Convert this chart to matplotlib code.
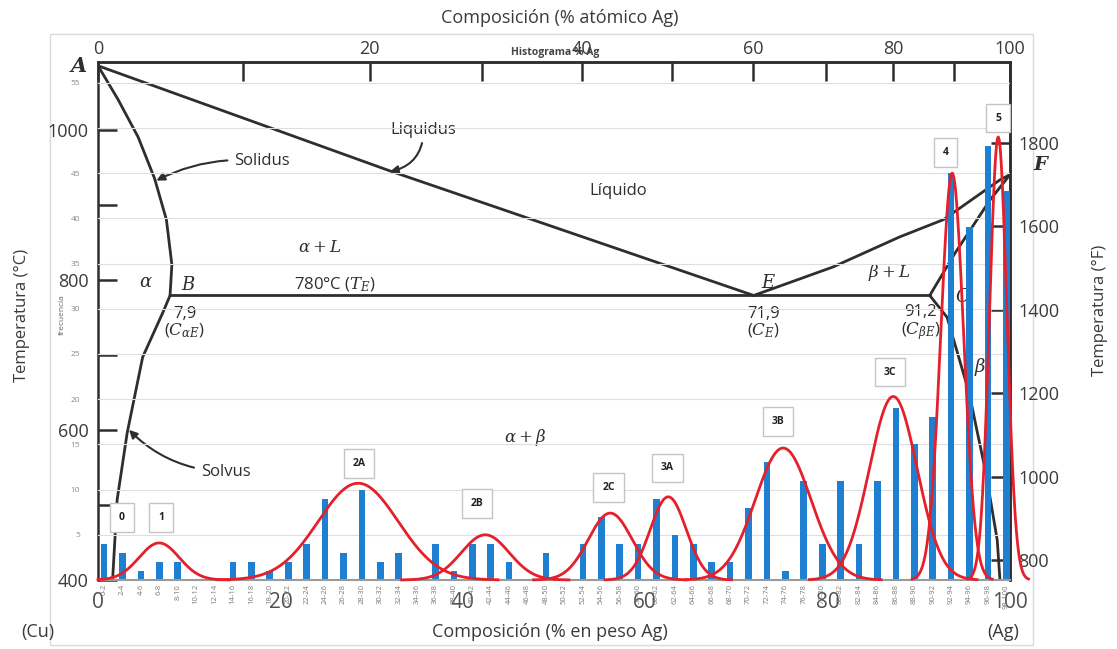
import numpy as np
import matplotlib.pyplot as plt
from matplotlib.patches import Rectangle

plt.rcParams['font.family'] = ['Open Sans', 'DejaVu Sans']
plt.rcParams['mathtext.fontset'] = 'dejavuserif'

# histogram: frequency per composition interval (% weight Ag)
bins = ["0-2", "2-4", "4-6", "6-8", "8-10", "10-12", "12-14", "14-16", "16-18", "18-20",
        "20-22", "22-24", "24-26", "26-28", "28-30", "30-32", "32-34", "34-36", "36-38", "38-40",
        "40-42", "42-44", "44-46", "46-48", "48-50", "50-52", "52-54", "54-56", "56-58", "58-60",
        "60-62", "62-64", "64-66", "66-68", "68-70", "70-72", "72-74", "74-76", "76-78", "78-80",
        "80-82", "82-84", "84-86", "86-88", "88-90", "90-92", "92-94", "94-96", "96-98", "98-100"]
counts = [4, 3, 1, 2, 2, 0, 0, 2, 2, 1,
          2, 4, 9, 3, 10, 2, 3, 0, 4, 1,
          4, 4, 2, 0, 3, 0, 4, 7, 4, 4,
          9, 5, 4, 2, 2, 8, 13, 1, 11, 4,
          11, 4, 11, 19, 15, 18, 45, 39, 48, 43]
freq_ticks = [0, 5, 10, 15, 20, 25, 30, 35, 40, 45, 50, 55]
freq_labels = ["", "5", "10", "15", "20", "25", "30", "35", "40", "45", "", "55"]

# fitted peaks (in bin-index units)
peak_names = ["1", "2A", "2B", "2C", "3A", "3B", "3C", "4", "5"]
peak_center = [2.99, 13.80, 20.70, 27.49, 30.64, 36.88, 42.86, 46.06, 48.56]
peak_height = [4.1, 10.7, 5.0, 7.4, 9.2, 14.6, 20.3, 45.0, 49.0]
peak_sigma = [1.09, 2.17, 1.30, 1.19, 0.98, 1.52, 1.30, 0.62, 0.47]

box_names = ["0", "1", "2A", "2B", "2C", "3A", "3B", "3C", "4", "5"]
box_x = [0.98, 3.1, 13.85, 20.26, 27.4, 30.6, 36.6, 42.7, 45.7, 48.56]
box_y = [6.9, 6.9, 12.9, 8.5, 10.2, 12.4, 17.5, 23.0, 47.3, 51.1]

# Cu-Ag phase diagram (% weight Ag, °C)
liquidus_wt = [0, 32, 71.9, 80.6, 87.9, 92.7, 98.9, 100]
liquidus_T = [1085, 945, 779, 817, 857, 880, 933, 940]
solidus_a_wt = [0, 2.2, 4.4, 6.2, 7.5, 8.1, 7.9]
solidus_a_T = [1085, 1040, 990, 935, 880, 820, 779]
solvus_a_wt = [7.9, 7.1, 4.9, 3.2, 2.1, 1.6]
solvus_a_T = [779, 756, 697, 596, 507, 400]
eutectic_wt = [7.9, 91.2]
eutectic_T = [779, 779]
solidus_b_wt = [91.2, 94.0, 97.8, 100]
solidus_b_T = [779, 836, 906, 940]
solvus_b_wt = [91.2, 93.1, 95.5, 97.4, 98.6, 98.9]
solvus_b_T = [779, 750, 650, 540, 453, 400]

W, H = 1117, 649
fig = plt.figure(figsize=(W / 100, H / 100), dpi=100)
rect = [98 / W, 69 / H, 912 / W, 518 / H]

ink = '#2e2e2e'
serif_it = dict(family='DejaVu Serif', style='italic', color=ink)

# ---- phase diagram layer
ax_p = fig.add_axes(rect)
ax_p.set_zorder(1)
ax_p.set_xlim(0, 100)
ax_p.set_ylim(400, 1090)
for xs, ys in [(liquidus_wt, liquidus_T), (solidus_a_wt, solidus_a_T), (solvus_a_wt, solvus_a_T),
               (eutectic_wt, eutectic_T), (solidus_b_wt, solidus_b_T), (solvus_b_wt, solvus_b_T)]:
    ax_p.plot(xs, ys, color=ink, lw=2, solid_capstyle='round', solid_joinstyle='round')
ax_p.spines['bottom'].set_visible(False)
for s in ['left', 'top', 'right']:
    ax_p.spines[s].set_color(ink)
    ax_p.spines[s].set_linewidth(1.8)
ax_p.set_xticks([0, 20, 40, 60, 80, 100])
ax_p.tick_params(axis='x', length=0, pad=9, labelsize=15, labelcolor='#505050')
ax_p.set_yticks([400, 600, 800, 1000])
ax_p.set_yticks([500, 700, 900], minor=True)
ax_p.tick_params(axis='y', which='both', direction='in', length=14, width=1.8, color=ink,
                 labelsize=13, labelcolor='#3a3a3a', pad=7)


def wt_to_at(w):
    w = np.clip(np.asarray(w, dtype=float), 0, 100)
    a = w / 107.87
    return 100 * a / (a + (100 - w) / 63.55)


def at_to_wt(a):
    a = np.clip(np.asarray(a, dtype=float), 0, 100)
    return 100 * a * 107.87 / (a * 107.87 + (100 - a) * 63.55)


top = ax_p.secondary_xaxis('top', functions=(wt_to_at, at_to_wt))
top.set_xticks([0, 20, 40, 60, 80, 100])
top.set_xticks([10, 30, 50, 70, 90], minor=True)
top.tick_params(which='both', direction='in', length=14, width=1.8, color=ink,
                labelsize=13, labelcolor='#3a3a3a', pad=3)
top.spines['top'].set_color(ink)
top.spines['top'].set_linewidth(1.8)

right = ax_p.secondary_yaxis('right', functions=(lambda c: c * 1.8 + 32, lambda f: (f - 32) / 1.8))
right.set_yticks([800, 1000, 1200, 1400, 1600, 1800, 2000])
right.tick_params(direction='in', length=14, width=1.8, color=ink,
                  labelsize=13, labelcolor='#3a3a3a', pad=6)
right.spines['right'].set_color(ink)
right.spines['right'].set_linewidth(1.8)

# region and point labels
ax_p.text(-1.2, 1085, "A", ha='right', va='center', fontsize=15, fontweight='bold', clip_on=False, **serif_it)
ax_p.text(103.3, 953, "F", ha='center', va='center', fontsize=14, fontweight='bold', clip_on=False, **serif_it)
ax_p.text(57, 918, "Líquido", ha='center', va='center', fontsize=12, color=ink)
ax_p.text(24.3, 842, r"$\alpha + L$", ha='center', va='center', fontsize=12, color=ink)
ax_p.text(26, 793, r"780°C ($T_E$)", ha='center', va='center', fontsize=12, color=ink)
ax_p.text(5.2, 797, r"$\alpha$", ha='center', va='center', fontsize=13, color=ink)
ax_p.text(9.9, 793, "B", ha='center', va='center', fontsize=13, **serif_it)
ax_p.text(9.5, 742, "7,9\n" + r"($C_{\alpha E}$)", ha='center', va='center', fontsize=12,
          color=ink, linespacing=1.0)
ax_p.text(73.4, 795, "E", ha='center', va='center', fontsize=13, **serif_it)
ax_p.text(73.0, 742, "71,9\n" + r"($C_E$)", ha='center', va='center', fontsize=12,
          color=ink, linespacing=1.0)
ax_p.text(86.8, 810, r"$\beta + L$", ha='center', va='center', fontsize=12, color=ink)
ax_p.text(90.2, 742, "91,2\n" + r"($C_{\beta E}$)", ha='center', va='center', fontsize=12,
          color=ink, linespacing=1.0)
ax_p.text(94.8, 777, "C", ha='center', va='center', fontsize=13, **serif_it)
ax_p.text(96.7, 684, r"$\beta$", ha='center', va='center', fontsize=13, color=ink)
ax_p.text(46.8, 590, r"$\alpha + \beta$", ha='center', va='center', fontsize=12, color=ink)

ax_p.annotate("Liquidus", xy=(32.0, 944), xytext=(35.7, 1000), ha='center', va='center',
              fontsize=12, color=ink,
              arrowprops=dict(arrowstyle='-|>', color=ink, lw=1.5, shrinkA=2, shrinkB=0,
                              connectionstyle='arc3,rad=-0.4'))
ax_p.annotate("Solidus", xy=(6.4, 932), xytext=(18.0, 958), ha='center', va='center',
              fontsize=12, color=ink,
              arrowprops=dict(arrowstyle='-|>', color=ink, lw=1.5, shrinkA=3, shrinkB=0,
                              connectionstyle='arc3,rad=0.15'))
ax_p.annotate("Solvus", xy=(3.4, 600), xytext=(14.0, 544), ha='center', va='center',
              fontsize=12, color=ink,
              arrowprops=dict(arrowstyle='-|>', color=ink, lw=1.5, shrinkA=3, shrinkB=0,
                              connectionstyle='arc3,rad=-0.2'))

# ---- histogram layer
ax_h = fig.add_axes(rect)
ax_h.set_zorder(2)
ax_h.patch.set_visible(False)
idx = np.arange(len(bins))
ax_h.bar(idx, counts, width=0.36, color='#1f7fd0', zorder=2)
ax_h.set_xlim(-0.33, 49.2)
ax_h.set_ylim(0, 57.3)
ax_h.set_yticks(freq_ticks)
ax_h.set_yticklabels(freq_labels)
ax_h.grid(axis='y', color='#dedede', lw=0.8)
ax_h.set_axisbelow(True)
for s in ['top', 'left', 'right']:
    ax_h.spines[s].set_visible(False)
ax_h.spines['bottom'].set_color('#9a9a9a')
ax_h.spines['bottom'].set_linewidth(1.5)
ax_h.set_xticks(idx)
ax_h.set_xticklabels(bins, rotation=90)
ax_h.tick_params(axis='x', length=0, pad=3, labelsize=5.5, labelcolor='#7a7a7a')
ax_h.tick_params(axis='y', length=0, pad=13, labelsize=6, labelcolor='#8a8a8a')

for c, h, s in zip(peak_center, peak_height, peak_sigma):
    xs = np.linspace(max(c - 3.5 * s, -0.33), c + 3.5 * s, 300)
    ax_h.plot(xs, h * np.exp(-0.5 * ((xs - c) / s) ** 2), color='#e5202a', lw=2,
              clip_on=False, zorder=4)

for name, x, y in zip(box_names, box_x, box_y):
    ax_h.text(x, y, name, ha='center', va='center', fontsize=7.5, fontweight='bold', color='#222',
              bbox=dict(boxstyle='square,pad=0.85', fc='white', ec='#c4c4c4', lw=1), zorder=5)

# ---- figure texts
fig.text(560 / W, 1 - 18 / H, "Composición (% atómico Ag)", ha='center', va='center',
         fontsize=13, color='#3a3a3a')
fig.text(555 / W, 1 - 52 / H, "Histograma % Ag", ha='center', va='center',
         fontsize=7.5, fontweight='bold', color='#444')
fig.text(22 / W, 1 - 315 / H, "Temperatura (°C)", rotation=90, ha='center', va='center',
         fontsize=12, color='#3a3a3a')
fig.text(62 / W, 1 - 315 / H, "frecuencia", rotation=90, ha='center', va='center',
         fontsize=6, color='#666')
fig.text(1100 / W, 1 - 310 / H, "Temperatura (°F)", rotation=90, ha='center', va='center',
         fontsize=12, color='#3a3a3a')
fig.text(550 / W, 1 - 632 / H, "Composición (% en peso Ag)", ha='center', va='center',
         fontsize=13, color='#3a3a3a')
fig.text(38 / W, 1 - 632 / H, "(Cu)", ha='center', va='center', fontsize=13, color='#3a3a3a')
fig.text(1003 / W, 1 - 632 / H, "(Ag)", ha='center', va='center', fontsize=13, color='#3a3a3a')

fig.add_artist(Rectangle((50 / W, 4 / H), 983 / W, 611 / H, transform=fig.transFigure,
                         fill=False, ec='#dadada', lw=1))

fig.savefig("out.png", dpi=100)
